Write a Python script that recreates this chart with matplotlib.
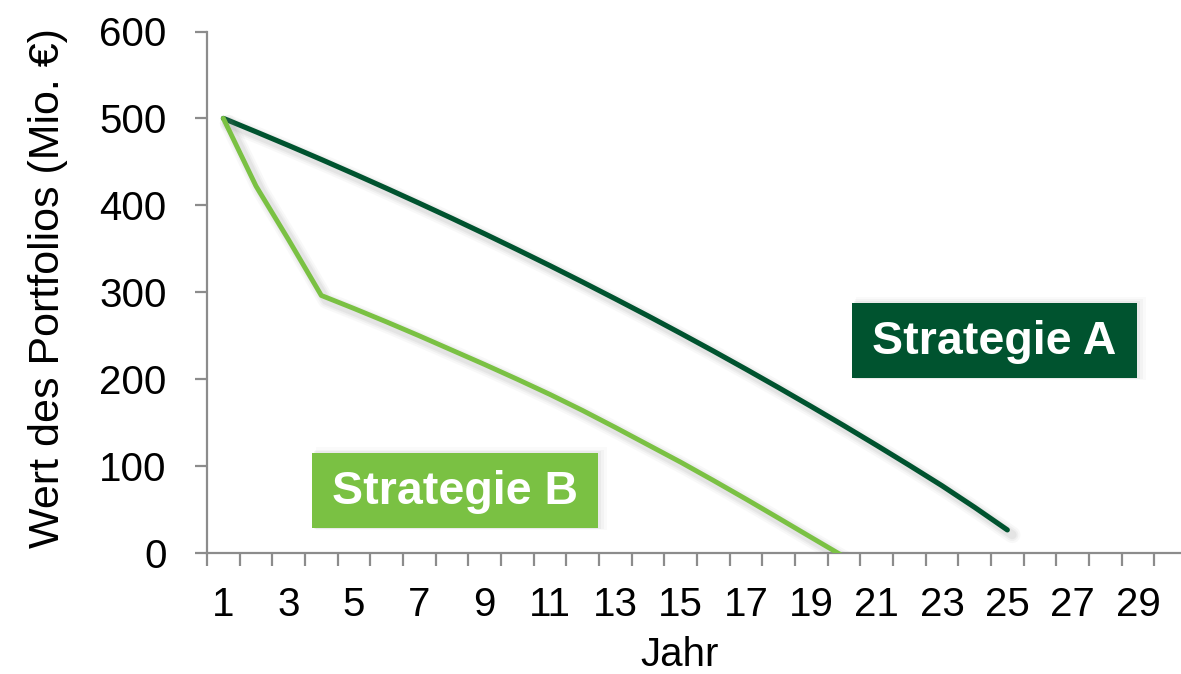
import matplotlib
matplotlib.use("Agg")
import matplotlib.pyplot as plt
import matplotlib.patheffects as pe
from matplotlib.patches import Rectangle

years = list(range(1, 31))
year_labels = [str(y) if y % 2 == 1 else "" for y in years]

strategie_a = [500, 484.5, 468.7, 452.6, 436.1, 419.3, 402.2, 384.8, 367.0, 348.8,
               330.3, 311.4, 292.1, 272.5, 252.4, 232.0, 211.1, 189.8, 168.1, 146.0,
               123.4, 100.4, 76.9, 52.0, 26.0]
strategie_b = [500, 422, 360, 296, 281, 265.5, 249.5, 233, 216.5, 199.5,
               182, 163.5, 144, 124, 104, 83, 61.5, 39.5, 17.3, -4.8]

y_ticks = [0, 100, 200, 300, 400, 500, 600]

col_a = "#00532F"
col_b = "#7AC143"
axis_col = "#8C8C8C"

plt.rcParams['font.family'] = ['Liberation Sans', 'DejaVu Sans']

W, H = 1181, 674
fig = plt.figure(figsize=(W / 100, H / 100), dpi=100)
ax = fig.add_axes([207 / W, 1 - 552.5 / H, (1187 - 207) / W, (552.5 - 31.5) / H])

def shadow_effects():
    effs = []
    for off, lw, a in [(3.5, 12, 0.05), (3.5, 9, 0.07), (3.5, 6.5, 0.09)]:
        effs.append(pe.SimpleLineShadow(offset=(off, -off), shadow_color="#808080", alpha=a,
                                        linewidth=lw))
    effs.append(pe.Normal())
    return effs

ax.plot(years[:len(strategie_a)], strategie_a, color=col_a, lw=3.7,
        solid_capstyle="round", solid_joinstyle="round", path_effects=shadow_effects(), zorder=3)
ax.plot(years[:len(strategie_b)], strategie_b, color=col_b, lw=3.5,
        solid_capstyle="round", solid_joinstyle="round", path_effects=shadow_effects(), zorder=3)

ax.set_xlim(0.5, 30.5)
ax.set_ylim(0, 600)

ax.set_yticks(y_ticks)
ax.set_yticklabels([str(v) for v in y_ticks])
ax.set_xticks(years)
ax.set_xticklabels(year_labels)
ax.set_xticks([y + 0.5 for y in [0] + years], minor=True)

for s in ["top", "right"]:
    ax.spines[s].set_visible(False)
for s in ["left", "bottom"]:
    ax.spines[s].set_color(axis_col)
    ax.spines[s].set_linewidth(1.6)

ax.tick_params(axis="y", direction="out", length=9, width=1.6, color=axis_col,
               labelsize=29, pad=20, labelcolor="black")
ax.tick_params(axis="x", which="major", length=0, labelsize=29, pad=24, labelcolor="black")
ax.tick_params(axis="x", which="minor", direction="out", length=9, width=1.6, color=axis_col)

ax.set_xlabel("Jahr", fontsize=29)
ax.xaxis.set_label_coords((680 - 207) / 980, -(636 - 552.5) / 521)
ax.set_ylabel("Wert des Portfolios (Mio. €)", fontsize=31)
ax.yaxis.set_label_coords(-(207 - 68) / 980, (552.5 - 288) / 521)

def label_box(x0, y0, x1, y1, color, text):
    fx0, fx1 = x0 / W, x1 / W
    fy0, fy1 = 1 - y1 / H, 1 - y0 / H
    for k, a in [(8, 0.035), (5, 0.05), (3, 0.07)]:
        fig.add_artist(Rectangle((fx0 + k * 0.5 / W, fy0 - k * 0.2 / H), fx1 - fx0 + k * 0.6 / W,
                                 fy1 - fy0 + k * 0.9 / H,
                                 transform=fig.transFigure, facecolor="#777777", edgecolor="none",
                                 alpha=a, zorder=4))
    fig.add_artist(Rectangle((fx0, fy0), fx1 - fx0, fy1 - fy0, transform=fig.transFigure,
                             facecolor=color, edgecolor="none", zorder=5))
    fig.text((fx0 + fx1) / 2, (fy0 + fy1) / 2 - 2 / H, text, color="white", fontsize=33.5,
             fontweight="bold", ha="center", va="center", zorder=6)

label_box(852, 303, 1137, 378, col_a, "Strategie A")
label_box(312, 453, 598, 528, col_b, "Strategie B")

fig.savefig("out.png", dpi=100)
